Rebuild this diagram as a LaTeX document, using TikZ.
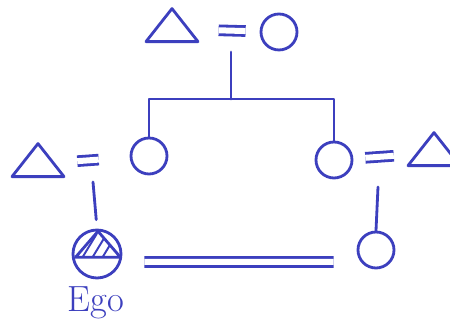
\documentclass[tikz,border=0pt]{standalone}
\usetikzlibrary{shapes.geometric}
\definecolor{pen}{HTML}{3C3FBE}

\begin{document}
\begin{tikzpicture}[
  x=0.02cm, y=-0.02cm,
  line width=1.6pt, line cap=round, line join=round,
  male/.style   = {draw=pen, line width=1.6pt, isosceles triangle,
                   shape border rotate=90, isosceles triangle stretches,
                   minimum width=1.04cm, minimum height=0.66cm,
                   inner sep=0pt, anchor=center},
  female/.style = {draw=pen, line width=1.6pt, circle,
                   minimum size=0.72cm, inner sep=0pt, anchor=center},
  kin/.style    = {draw=pen, line width=1.6pt},
  marr/.style   = {draw=pen, line width=1.6pt, double=white,
                   double distance=0.12cm, line cap=butt},
  lbl/.style    = {text=pen, font=\huge, inner sep=1pt}
]
\useasboundingbox[fill=white] (0,0) rectangle (450,333);

% grandparents
\node[male]   (gf) at (172,29) {};
\node[female] (gm) at (279,32) {};
% parents, aunt and her husband
\node[male]   (fa) at (38,164)  {};
\node[female] (mo) at (149,156) {};
\node[female] (au) at (334,160) {};
\node[male]   (ul) at (434,153) {};
% ego and cousin
\node[female, minimum size=0.96cm] (ego) at (97,254) {};
\node[male, minimum width=0.9cm, minimum height=0.52cm,
      path picture={
        \foreach \s in {0.14,0.34,0.54}
          \draw[pen, line width=1.1pt]
            ([xshift=\s cm]path picture bounding box.south west) -- ++(0.28cm,0.46cm);
      }] (egom) at (98,247) {};
\node[female] (co) at (376,250) {};
\node[lbl] (egot) at (96,303) {Ego};

% marriages
\draw[marr, shorten <=0.56cm, shorten >=0.28cm] (gf) -- (gm);
\draw[marr, shorten <=0.44cm, shorten >=0.62cm] (fa) -- (mo);
\draw[marr, shorten <=0.24cm, shorten >=0.42cm] (au) -- (ul);
\draw[marr, shorten <=0.44cm, shorten >=0.46cm]
  ([yshift=-0.16cm]ego.east) -- ([yshift=-0.24cm]co.west);

% descent
\coordinate (gp)  at (231,52);
\coordinate (bar) at (231,99);
\draw[kin] (gp) -- (bar);
\draw[kin] (mo.north) |- (bar) -| (au.north);
\coordinate (fp) at (93,182);
\draw[kin, shorten >=0.18cm] (fp) -- (ego.north);
\coordinate (ap) at (378,187);
\draw[kin] (ap) -- (co.north);

\end{tikzpicture}
\end{document}
